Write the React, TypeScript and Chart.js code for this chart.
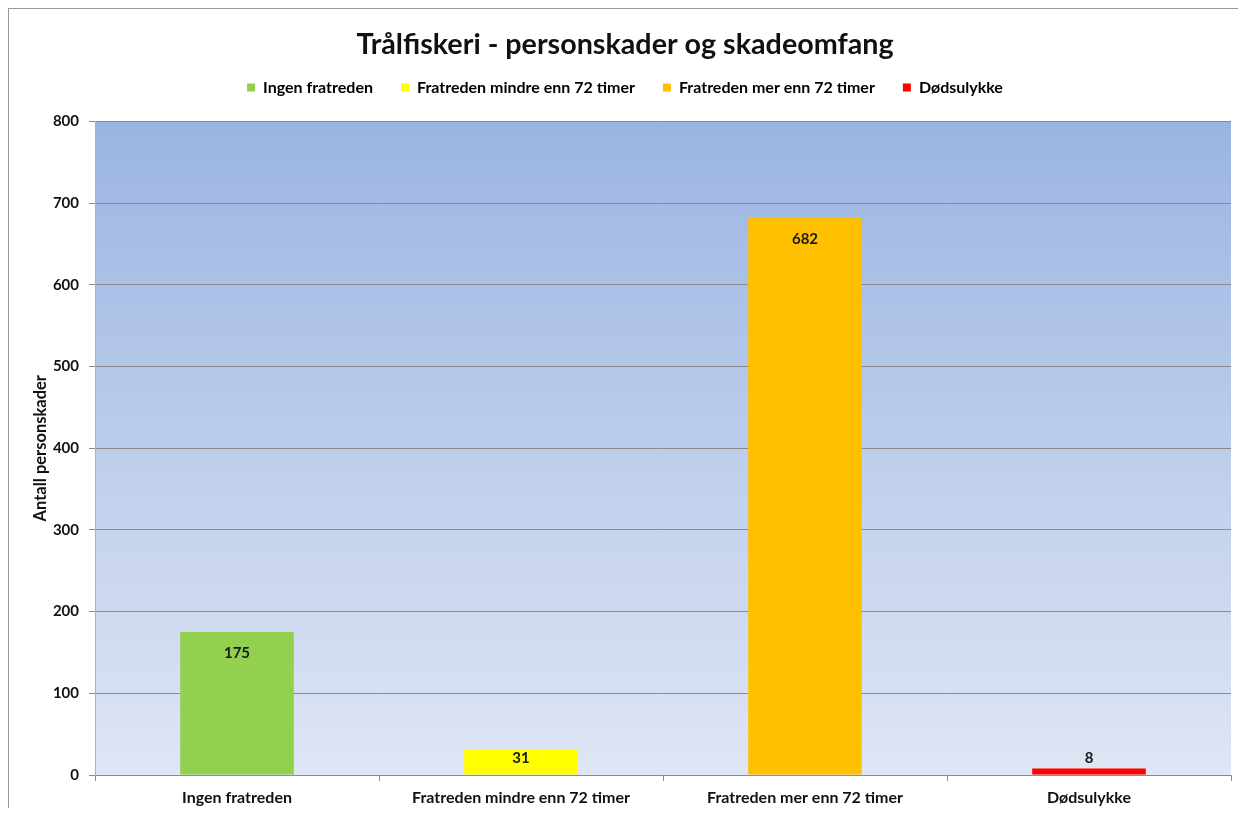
import React, { useEffect, useRef } from "react";
import { Chart, registerables } from "chart.js";

Chart.register(...registerables);

const categories = [
  "Ingen fratreden",
  "Fratreden mindre enn 72 timer",
  "Fratreden mer enn 72 timer",
  "Dødsulykke",
];
const values = [175, 31, 682, 8];
const barColors = ["#92D050", "#FFFF00", "#FFC000", "#FF0000"];
const yTicks = [0, 100, 200, 300, 400, 500, 600, 700, 800];

const FONT = "Lato, 'Open Sans', sans-serif";

const bgPlugin = {
  id: "plotBg",
  beforeDraw(chart: any) {
    const { ctx, chartArea } = chart;
    if (!chartArea) return;
    const g = ctx.createLinearGradient(0, chartArea.top, 0, chartArea.bottom);
    g.addColorStop(0, "#9AB4E2");
    g.addColorStop(1, "#DFE6F4");
    ctx.save();
    ctx.fillStyle = g;
    ctx.fillRect(chartArea.left, chartArea.top, chartArea.right - chartArea.left, chartArea.bottom - chartArea.top);
    ctx.restore();
  },
};

const legendSpace = {
  id: "legendSpace",
  beforeLayout(chart: any) {
    const lg = chart.legend;
    if (!lg || lg._patched) return;
    const f = lg.fit.bind(lg);
    lg.fit = function () {
      f();
      lg.height += 16;
    };
    lg._patched = true;
  },
};

const labelPlugin = {
  id: "barLabels",
  afterDatasetsDraw(chart: any) {
    const { ctx } = chart;
    const meta = chart.getDatasetMeta(0);
    ctx.save();
    ctx.font = `bold 15px ${FONT}`;
    ctx.fillStyle = "#1a1a1a";
    ctx.textAlign = "center";
    ctx.textBaseline = "middle";
    meta.data.forEach((el: any, i: number) => {
      const h = el.base - el.y;
      let y;
      if (h < 16) y = el.y - 10;
      else y = el.y + Math.min(21, h / 2 - 4);
      ctx.fillText(String(values[i]), el.x, y);
    });
    ctx.restore();
  },
};

export default function App() {
  const ref = useRef<HTMLCanvasElement>(null);
  useEffect(() => {
    if (!ref.current) return;
    const chart = new Chart(ref.current, {
      type: "bar",
      data: {
        labels: categories,
        datasets: [
          {
            label: "Antall",
            data: values,
            backgroundColor: barColors,
            borderWidth: 0,
            barPercentage: 0.4,
            categoryPercentage: 1,
          },
        ],
      },
      options: {
        animation: false,
        responsive: false,
        layout: { padding: { left: 10, right: 7, top: 0, bottom: 0 } },
        plugins: {
          title: {
            display: true,
            text: "Trålfiskeri - personskader og skadeomfang",
            font: { family: FONT, size: 28.7, weight: "bold" },
            color: "#111",
            padding: { top: 19, bottom: -11 },
          },
          legend: {
            display: true,
            labels: {
              font: { family: FONT, size: 16, weight: "bold" },
              color: "#111",
              boxWidth: 8,
              boxHeight: 8,
              padding: 28,
              generateLabels: (c: any) =>
                c.data.labels.map((l: string, i: number) => ({
                  text: l,
                  fillStyle: barColors[i],
                  strokeStyle: barColors[i],
                  lineWidth: 0,
                  hidden: false,
                  index: i,
                  datasetIndex: 0,
                })),
            },
            onClick: () => {},
          },
          tooltip: { enabled: false },
        },
        scales: {
          x: {
            afterFit: (s: any) => {
              s.height = 33;
            },
            grid: { drawOnChartArea: false, drawTicks: true, tickLength: 6, color: "#8c8c8c", offset: true },
            border: { color: "#8c8c8c" },
            ticks: { font: { family: FONT, size: 16, weight: "bold" }, color: "#111", padding: 7 },
          },
          y: {
            min: 0,
            max: 800,
            afterBuildTicks: (s: any) => {
              s.ticks = yTicks.map((v) => ({ value: v }));
            },
            afterFit: (s: any) => {
              s.width = 76;
            },
            grid: { color: "#8a8a8a", tickLength: 6, lineWidth: 1 },
            border: { color: "#b0b0b0" },
            ticks: { font: { family: FONT, size: 15, weight: "bold" }, color: "#111", padding: 10 },
            title: {
              display: true,
              text: "Antall personskader",
              font: { family: FONT, size: 16.5, weight: "bold" },
              color: "#111",
              padding: { top: 12, bottom: 0 },
            },
          },
        },
      },
      plugins: [bgPlugin, legendSpace, labelPlugin],
    });
    return () => chart.destroy();
  }, []);
  return (
    <div style={{ width: 1230, height: 800, borderLeft: "1px solid #999", borderTop: "1px solid #999", boxSizing: "border-box", background: "#fff" }}>
      <canvas ref={ref} width={1229} height={799} />
    </div>
  );
}
